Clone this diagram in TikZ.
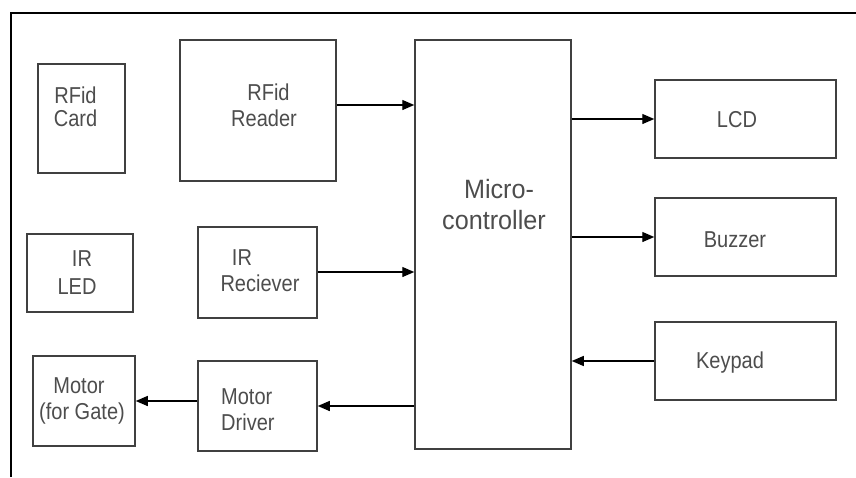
\documentclass[tikz,border=0pt]{standalone}
\usepackage{fontspec}
\setmainfont[FakeStretch=0.87]{Liberation Sans}
\newfontfamily\mcfont[FakeStretch=0.95]{Liberation Sans}
\usetikzlibrary{arrows.meta}
\definecolor{boxgray}{HTML}{404040}
\definecolor{txtgray}{HTML}{4D4D4D}
\begin{document}
\begin{tikzpicture}[x=1pt,y=-1pt,
  box/.style={draw=boxgray,line width=1.5pt,inner sep=0pt,fill=none},
  lbl/.style={text=txtgray,inner sep=0pt,align=center,font=\fontsize{23}{26}\selectfont},
  big/.style={text=txtgray,inner sep=0pt,align=center,font=\mcfont\fontsize{26.5}{31}\selectfont},
  arr/.style={draw=black,line width=1.3pt,-{Triangle[length=12pt,width=10pt]}},
  frame/.style={draw=black,line width=1.5pt}]
\useasboundingbox (0,0) rectangle (856,477);
\fill[white] (0,0) rectangle (856,477);
% outer frame
\coordinate (fbl) at (11,477);
\coordinate (ftl) at (11,13);
\coordinate (ftr) at (856,13);
\draw[frame] (fbl) -- (ftl) -- (ftr);
% boxes
\node[box,minimum width=87pt,minimum height=109pt] (card) at (81.5,118.5) {};
\node[box,minimum width=156pt,minimum height=141pt] (reader) at (258,110.5) {};
\node[box,minimum width=156pt,minimum height=409pt] (mc) at (493,244.5) {};
\node[box,minimum width=181pt,minimum height=78pt] (lcd) at (745.5,119) {};
\node[box,minimum width=181pt,minimum height=78pt] (buzzer) at (745.5,237) {};
\node[box,minimum width=181pt,minimum height=78pt] (keypad) at (745.5,361) {};
\node[box,minimum width=106pt,minimum height=78pt] (irled) at (80,273) {};
\node[box,minimum width=119pt,minimum height=91pt] (irrec) at (257.5,272.5) {};
\node[box,minimum width=102pt,minimum height=90pt] (motor) at (84,401) {};
\node[box,minimum width=119pt,minimum height=90pt] (driver) at (257.5,406) {};
% labels
\node[lbl,font=\fontsize{23}{23}\selectfont] (tcard) at (75.5,107) {RFid\\Card};
\node[lbl] (treader) at (264,105) {RFid\hspace*{-9pt}\\Reader};
\node[big] (tmc) at (494,205) {Micro-\hspace*{-10pt}\\controller};
\node[lbl] (tlcd) at (737,120) {LCD};
\node[lbl] (tbuzzer) at (735,240) {Buzzer};
\node[lbl] (tkeypad) at (730,363) {Keypad};
\node[lbl,font=\fontsize{23}{27.5}\selectfont] (tirled) at (77,272.5) {IR\hspace*{-10pt}\\LED};
\node[lbl] (tirrec) at (260,271) {IR\hspace*{36pt}\\Reciever};
\node[lbl] (tmotor) at (82,400.5) {Motor\hspace*{6pt}\\(for Gate)};
\node[lbl,align=left,anchor=west] (tdriver) at (221,409.5) {Motor\\Driver};
% connectors
\draw[arr] ([yshift=5.5pt]reader.east) -- ([yshift=5.5pt]reader.east -| mc.west);
\draw[arr] ([yshift=0.5pt]irrec.east) -- ([yshift=0.5pt]irrec.east -| mc.west);
\draw[arr] (driver.east -| mc.west) -- (driver.east);
\draw[arr] (motor.east -| driver.west) -- (motor.east);
\draw[arr] (lcd.west -| mc.east) -- (lcd.west);
\draw[arr] (buzzer.west -| mc.east) -- (buzzer.west);
\draw[arr] (keypad.west) -- (keypad.west -| mc.east);
\end{tikzpicture}
\end{document}
